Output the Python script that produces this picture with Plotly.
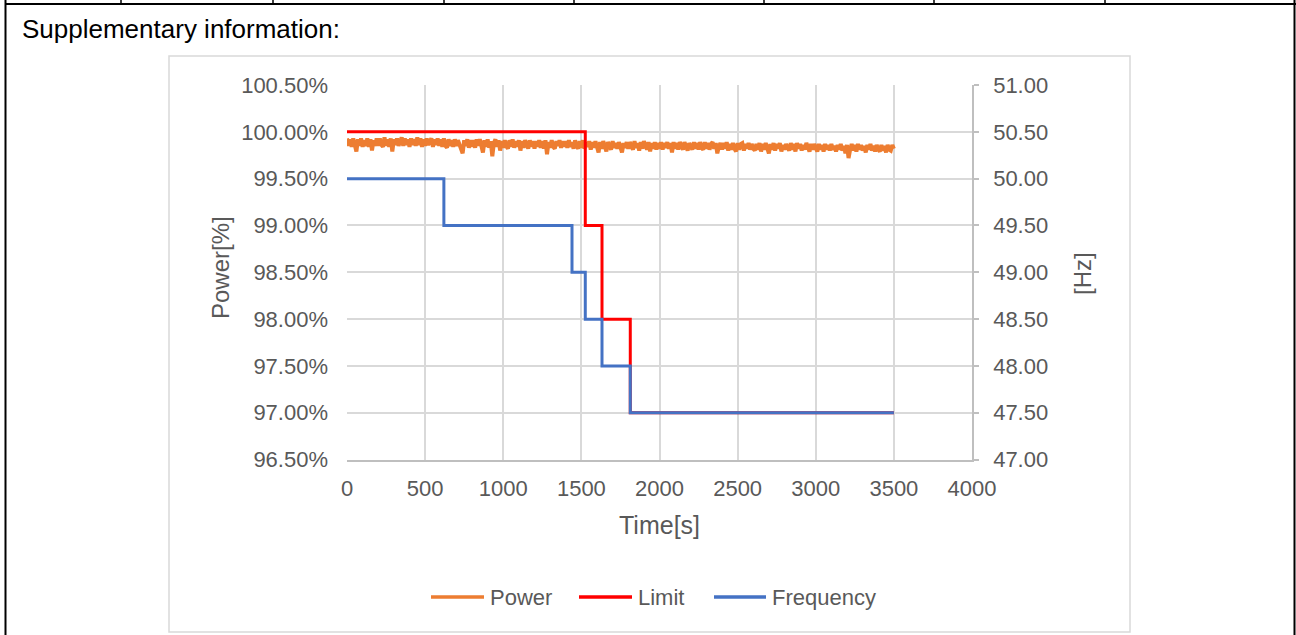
import plotly.graph_objects as go

# ---- data -------------------------------------------------------------
# Active power (% of rated), sampled every 10 s from 0 s to 3500 s
power_step_s = 10
power_pct = [
    99.93, 99.85, 99.92, 99.84, 99.93, 99.86, 99.79, 99.92, 99.85, 99.93, 99.84, 99.91, 99.85, 99.93, 99.84, 99.92, 99.80, 99.91, 99.85, 99.93,
    99.85, 99.93, 99.86, 99.84, 99.94, 99.85, 99.92, 99.84, 99.93, 99.79, 99.92, 99.86, 99.93, 99.85, 99.91, 99.94, 99.85, 99.93, 99.86, 99.92,
    99.84, 99.93, 99.86, 99.92, 99.85, 99.94, 99.86, 99.93, 99.84, 99.92, 99.85, 99.93, 99.86, 99.91, 99.93, 99.84, 99.92, 99.86, 99.93, 99.85,
    99.92, 99.84, 99.93, 99.85, 99.83, 99.92, 99.85, 99.91, 99.84, 99.92, 99.85, 99.91, 99.86, 99.84, 99.77, 99.91, 99.85, 99.92, 99.83, 99.91,
    99.84, 99.91, 99.83, 99.92, 99.85, 99.92, 99.84, 99.78, 99.91, 99.84, 99.92, 99.83, 99.90, 99.74, 99.88, 99.92, 99.84, 99.91, 99.80, 99.90,
    99.83, 99.91, 99.85, 99.82, 99.91, 99.84, 99.92, 99.83, 99.90, 99.84, 99.91, 99.80, 99.90, 99.83, 99.91, 99.85, 99.82, 99.91, 99.84, 99.90,
    99.82, 99.90, 99.84, 99.91, 99.83, 99.90, 99.82, 99.91, 99.76, 99.89, 99.83, 99.91, 99.84, 99.82, 99.90, 99.85, 99.91, 99.83, 99.90, 99.84,
    99.90, 99.83, 99.91, 99.84, 99.89, 99.82, 99.91, 99.85, 99.82, 99.90, 99.83, 99.91, 99.82, 99.89, 99.84, 99.90, 99.81, 99.89, 99.83, 99.90,
    99.84, 99.78, 99.89, 99.82, 99.90, 99.83, 99.79, 99.89, 99.84, 99.81, 99.90, 99.83, 99.88, 99.82, 99.89, 99.84, 99.78, 99.88, 99.83, 99.89,
    99.82, 99.89, 99.84, 99.81, 99.90, 99.83, 99.88, 99.80, 99.89, 99.82, 99.90, 99.84, 99.81, 99.89, 99.79, 99.88, 99.82, 99.89, 99.81, 99.88,
    99.82, 99.89, 99.81, 99.88, 99.83, 99.89, 99.82, 99.88, 99.78, 99.89, 99.82, 99.88, 99.81, 99.89, 99.84, 99.81, 99.89, 99.83, 99.80, 99.88,
    99.84, 99.81, 99.89, 99.82, 99.88, 99.81, 99.89, 99.83, 99.81, 99.89, 99.82, 99.88, 99.81, 99.87, 99.89, 99.82, 99.88, 99.77, 99.84, 99.88,
    99.81, 99.88, 99.82, 99.89, 99.80, 99.87, 99.81, 99.88, 99.82, 99.79, 99.88, 99.81, 99.87, 99.88, 99.80, 99.87, 99.82, 99.88, 99.81, 99.87,
    99.82, 99.80, 99.87, 99.81, 99.88, 99.79, 99.87, 99.81, 99.88, 99.82, 99.77, 99.87, 99.81, 99.88, 99.80, 99.87, 99.82, 99.88, 99.79, 99.86,
    99.81, 99.87, 99.82, 99.80, 99.88, 99.81, 99.87, 99.79, 99.88, 99.82, 99.87, 99.80, 99.86, 99.81, 99.88, 99.82, 99.79, 99.87, 99.81, 99.87,
    99.82, 99.79, 99.87, 99.81, 99.86, 99.79, 99.87, 99.81, 99.86, 99.80, 99.87, 99.81, 99.85, 99.79, 99.86, 99.81, 99.87, 99.80, 99.85, 99.77,
    99.86, 99.72, 99.81, 99.87, 99.80, 99.86, 99.79, 99.87, 99.81, 99.86, 99.80, 99.85, 99.78, 99.86, 99.81, 99.87, 99.80, 99.85, 99.79, 99.86,
    99.81, 99.79, 99.86, 99.80, 99.85, 99.78, 99.86, 99.81, 99.80, 99.86, 99.82,
]
power_time_s = [i * power_step_s for i in range(len(power_pct))]

# Power limit setpoint (%), step changes at the listed times
limit_time_s = [0, 1525, 1632, 1813, 3500]
limit_pct = [100.0, 99.0, 98.0, 97.0, 97.0]

# Grid frequency (Hz), step changes at the listed times
freq_time_s = [0, 620, 1440, 1525, 1632, 1813, 3500]
freq_hz = [50.0, 49.5, 49.0, 48.5, 48.0, 47.5, 47.5]

x_ticks = [0, 500, 1000, 1500, 2000, 2500, 3000, 3500, 4000]
pct_ticks = [96.5, 97.0, 97.5, 98.0, 98.5, 99.0, 99.5, 100.0, 100.5]
hz_ticks = [47.0, 47.5, 48.0, 48.5, 49.0, 49.5, 50.0, 50.5, 51.0]

series_names = ["Power", "Limit", "Frequency"]
series_colors = ["#ED7D31", "#FF0000", "#4472C4"]

# ---- page geometry ----------------------------------------------------
W, H = 1296, 635


def px(x):
    return x / W


def py(y):
    return 1 - y / H


FONT = "Liberation Sans, Arial, sans-serif"
GREY_TXT = "#595959"
GRID = "#d9d9d9"
AXIS = "#bfbfbf"

fig = go.Figure()

fig.add_trace(go.Scatter(
    x=power_time_s, y=power_pct, name=series_names[0], mode="lines",
    line=dict(color=series_colors[0], width=4), yaxis="y", showlegend=False,
))
fig.add_trace(go.Scatter(
    x=limit_time_s, y=limit_pct, name=series_names[1], mode="lines",
    line=dict(color=series_colors[1], width=3, shape="hv"), yaxis="y", showlegend=False,
))
fig.add_trace(go.Scatter(
    x=freq_time_s, y=freq_hz, name=series_names[2], mode="lines",
    line=dict(color=series_colors[2], width=3, shape="hv"), yaxis="y2", showlegend=False,
))

# table frame around the chart
shapes = [
    dict(type="line", xref="paper", yref="paper", x0=px(5), x1=px(1296), y0=py(4), y1=py(4),
         line=dict(color="black", width=2)),
    dict(type="line", xref="paper", yref="paper", x0=px(5.5), x1=px(5.5), y0=py(0), y1=py(H),
         line=dict(color="black", width=2)),
    dict(type="line", xref="paper", yref="paper", x0=px(1294.5), x1=px(1294.5), y0=py(0), y1=py(H),
         line=dict(color="black", width=2)),
]
for xc in [121, 273, 444, 574, 764, 934, 1105]:
    shapes.append(dict(type="line", xref="paper", yref="paper", x0=px(xc), x1=px(xc),
                       y0=py(0), y1=py(4), line=dict(color="black", width=1.5)))
# chart area border
shapes.append(dict(type="rect", xref="paper", yref="paper", x0=px(169), x1=px(1130),
                   y0=py(56), y1=py(632), line=dict(color=GRID, width=1.5)))

annotations = [
    dict(text="Supplementary information:", xref="paper", yref="paper", x=px(20), y=py(29),
         xanchor="left", yanchor="middle", showarrow=False,
         font=dict(family=FONT, size=26, color="black")),
    dict(text="Power[%]", xref="paper", yref="paper", x=px(220), y=py(268),
         xanchor="center", yanchor="middle", showarrow=False, textangle=-90,
         font=dict(family=FONT, size=24, color=GREY_TXT)),
    dict(text="[Hz]", xref="paper", yref="paper", x=px(1082), y=py(274),
         xanchor="center", yanchor="middle", showarrow=False, textangle=-90,
         font=dict(family=FONT, size=24, color=GREY_TXT)),
    dict(text="Time[s]", xref="paper", yref="paper", x=px(659.5), y=py(525),
         xanchor="center", yanchor="middle", showarrow=False,
         font=dict(family=FONT, size=25, color=GREY_TXT)),
]

# legend row below the axis title: long line keys followed by the series name
legend_y = 597
legend_keys = [(431, 484), (579, 632), (714, 766)]
for name, color, (kx0, kx1) in zip(series_names, series_colors, legend_keys):
    shapes.append(dict(type="line", xref="paper", yref="paper", x0=px(kx0), x1=px(kx1),
                       y0=py(legend_y), y1=py(legend_y), line=dict(color=color, width=3.5)))
    annotations.append(dict(text=name, xref="paper", yref="paper", x=px(kx1 + 4), y=py(legend_y),
                            xanchor="left", yanchor="middle", showarrow=False,
                            font=dict(family=FONT, size=22, color=GREY_TXT)))

x0_px, x1_px = 347, 972
y_top_px, y_bot_px = 85, 459.6

fig.update_layout(
    width=W, height=H, autosize=False,
    margin=dict(l=0, r=0, t=0, b=0, pad=0, autoexpand=False),
    paper_bgcolor="white", plot_bgcolor="white",
    font=dict(family=FONT, size=22, color=GREY_TXT),
    showlegend=False,
    xaxis=dict(
        domain=[px(x0_px), px(x1_px)], range=[0, 4000], automargin=False,
        tickvals=x_ticks, ticktext=[str(v) for v in x_ticks],
        showgrid=True, gridcolor=GRID, gridwidth=1.5,
        showline=True, linecolor=AXIS, linewidth=1.5,
        zeroline=False, ticks="", ticklabelstandoff=8,
        tickfont=dict(size=22, color=GREY_TXT),
    ),
    yaxis=dict(
        domain=[py(y_bot_px), py(y_top_px)], range=[96.5, 100.5], automargin=False,
        tickvals=pct_ticks, ticktext=[f"{v:.2f}%" for v in pct_ticks],
        showgrid=True, gridcolor=GRID, gridwidth=1.5,
        showline=False, zeroline=False, ticks="", ticklabelstandoff=18,
        tickfont=dict(size=22, color=GREY_TXT),
    ),
    yaxis2=dict(
        overlaying="y", side="right", anchor="x", range=[47, 51], automargin=False,
        tickvals=hz_ticks, ticktext=[f"{v:.2f}" for v in hz_ticks],
        showgrid=False, zeroline=False,
        showline=True, linecolor=AXIS, linewidth=1.5,
        ticks="outside", ticklen=5, tickcolor=AXIS, tickwidth=1.5,
        ticklabelstandoff=10,
        tickfont=dict(size=22, color=GREY_TXT),
    ),
    shapes=shapes,
    annotations=annotations,
)

fig.write_html("out.html")
